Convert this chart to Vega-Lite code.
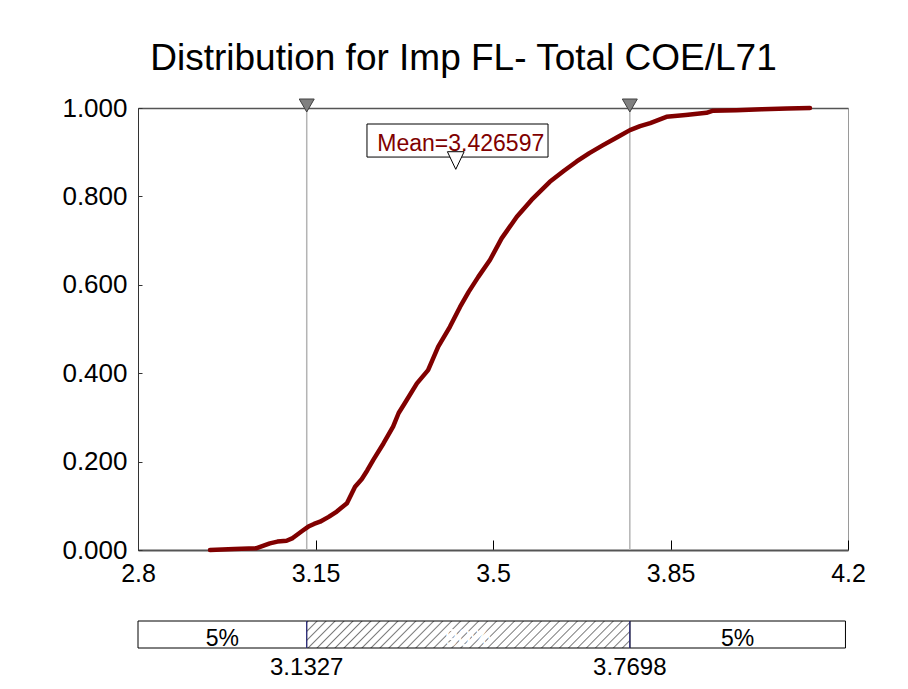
{
  "$schema": "https://vega.github.io/schema/vega-lite/v6.json",
  "width": 710,
  "height": 442,
  "autosize": {"type": "none"},
  "padding": {"left": 138, "top": 108, "right": 60, "bottom": 139},
  "background": "white",
  "title": {
    "text": "Distribution for Imp FL- Total COE/L71",
    "font": "Liberation Sans, Arial, sans-serif",
    "fontSize": 37,
    "fontWeight": "normal",
    "color": "black",
    "anchor": "middle",
    "dx": -29.5,
    "offset": 17
  },
  "config": {
    "view": {"stroke": "#9a9a9a", "strokeWidth": 1},
    "axis": {"grid": false, "labelColor": "black", "title": null}
  },
  "datasets": {
    "cdf": [
      {"x": 2.942, "p": 0.0},
      {"x": 2.99, "p": 0.002},
      {"x": 3.034, "p": 0.004},
      {"x": 3.06, "p": 0.015},
      {"x": 3.075, "p": 0.019},
      {"x": 3.093, "p": 0.021},
      {"x": 3.105, "p": 0.027},
      {"x": 3.113, "p": 0.034},
      {"x": 3.125, "p": 0.044},
      {"x": 3.136, "p": 0.053},
      {"x": 3.147, "p": 0.059},
      {"x": 3.159, "p": 0.064},
      {"x": 3.176, "p": 0.075},
      {"x": 3.192, "p": 0.087},
      {"x": 3.212, "p": 0.106},
      {"x": 3.228, "p": 0.143},
      {"x": 3.241, "p": 0.16},
      {"x": 3.252, "p": 0.18},
      {"x": 3.264, "p": 0.204},
      {"x": 3.284, "p": 0.241},
      {"x": 3.303, "p": 0.279},
      {"x": 3.314, "p": 0.31},
      {"x": 3.326, "p": 0.332},
      {"x": 3.35, "p": 0.377},
      {"x": 3.372, "p": 0.407},
      {"x": 3.392, "p": 0.46},
      {"x": 3.415, "p": 0.505},
      {"x": 3.435, "p": 0.55},
      {"x": 3.452, "p": 0.584},
      {"x": 3.471, "p": 0.618},
      {"x": 3.494, "p": 0.656},
      {"x": 3.517, "p": 0.705},
      {"x": 3.547, "p": 0.754},
      {"x": 3.576, "p": 0.792},
      {"x": 3.612, "p": 0.833},
      {"x": 3.64, "p": 0.858},
      {"x": 3.665, "p": 0.879},
      {"x": 3.69, "p": 0.898},
      {"x": 3.717, "p": 0.916},
      {"x": 3.745, "p": 0.934},
      {"x": 3.77, "p": 0.95},
      {"x": 3.79, "p": 0.959},
      {"x": 3.81, "p": 0.966},
      {"x": 3.842, "p": 0.98},
      {"x": 3.88, "p": 0.984},
      {"x": 3.921, "p": 0.989},
      {"x": 3.934, "p": 0.994},
      {"x": 3.98, "p": 0.995},
      {"x": 4.03, "p": 0.997},
      {"x": 4.08, "p": 0.999},
      {"x": 4.125, "p": 1.0}
    ],
    "quantiles": [
      {"q": 0.05, "v": 3.1327},
      {"q": 0.95, "v": 3.7698}
    ],
    "mean": [
      {"mean": 3.426597, "label": "Mean=3.426597"}
    ],
    "segments": [
      {"seg": "lower", "from": 2.8, "to": 3.1327, "share": "5%"},
      {"seg": "middle", "from": 3.1327, "to": 3.7698, "share": "90%"},
      {"seg": "upper", "from": 3.7698, "to": 4.195, "share": "5%"}
    ]
  },
  "layer": [
    {
      "layer": [
        {
          "data": {"name": "quantiles"},
          "mark": {"type": "rule", "color": "#b4b4b4", "strokeWidth": 1.5},
          "encoding": {
            "x": {
              "field": "v",
              "type": "quantitative",
              "scale": {"domain": [2.8, 4.2], "nice": false, "zero": false},
              "axis": {"orient": "top", "labels": false, "ticks": false, "domain": true, "domainColor": "#555555", "domainWidth": 1.5, "title": null}
            }
          }
        },
        {
          "data": {"name": "cdf"},
          "mark": {"type": "line", "color": "#800000", "strokeWidth": 4.5, "strokeJoin": "round", "strokeCap": "round"},
          "encoding": {
            "x": {
              "field": "x",
              "type": "quantitative",
              "scale": {"domain": [2.8, 4.2], "nice": false, "zero": false},
              "axis": {
                "orient": "bottom",
                "values": [2.8, 3.15, 3.5, 3.85, 4.2],
                "labelExpr": "toString(datum.value)",
                "labelFont": "Liberation Sans, Arial, sans-serif",
                "labelFontSize": 25,
                "labelPadding": 21,
                "labelFlush": false,
                "labelOverlap": false,
                "tickSize": -10,
                "tickColor": "black",
                "tickWidth": 1,
                "domainColor": "#555555",
                "domainWidth": 2,
                "title": null
              }
            },
            "y": {
              "field": "p",
              "type": "quantitative",
              "scale": {"domain": [0, 1], "nice": false, "zero": false},
              "axis": {
                "orient": "left",
                "values": [0, 0.2, 0.4, 0.6, 0.8, 1.0],
                "format": ".3f",
                "labelFont": "Liberation Sans, Arial, sans-serif",
                "labelFontSize": 26,
                "labelPadding": 15,
                "labelFlush": false,
                "labelOverlap": false,
                "tickSize": -4,
                "tickColor": "#333333",
                "domainColor": "#333333",
                "domainWidth": 1,
                "title": null
              }
            }
          }
        },
        {
          "data": {"name": "mean"},
          "mark": {"type": "rect", "fill": "white", "stroke": "black", "strokeWidth": 1},
          "encoding": {
            "x": {"datum": 3.2515, "type": "quantitative", "axis": null},
            "x2": {"datum": 3.6085},
            "y": {"datum": 0.889, "type": "quantitative"},
            "y2": {"datum": 0.9638}
          }
        },
        {
          "data": {"name": "mean"},
          "mark": {
            "type": "text",
            "font": "Liberation Sans, Arial, sans-serif",
            "fontSize": 23,
            "color": "#800000",
            "align": "center",
            "baseline": "alphabetic",
            "dx": 5
          },
          "encoding": {
            "x": {"field": "mean", "type": "quantitative", "axis": null},
            "y": {"datum": 0.9034, "type": "quantitative"},
            "text": {"field": "label"}
          }
        },
        {
          "data": {"name": "mean"},
          "mark": {
            "type": "point",
            "shape": "M-0.95,-1L0.95,-1L0,1Z",
            "size": 310,
            "filled": true,
            "fill": "white",
            "stroke": "black",
            "strokeWidth": 1,
            "opacity": 1
          },
          "encoding": {
            "x": {"field": "mean", "type": "quantitative", "axis": null},
            "y": {"datum": 0.8812, "type": "quantitative"}
          }
        },
        {
          "data": {"name": "quantiles"},
          "mark": {
            "type": "point",
            "shape": "triangle-down",
            "size": 225,
            "filled": true,
            "fill": "#808080",
            "stroke": "#404040",
            "strokeWidth": 1,
            "opacity": 1,
            "yOffset": -2.5
          },
          "encoding": {
            "x": {"field": "v", "type": "quantitative", "axis": null},
            "y": {"datum": 1, "type": "quantitative"}
          }
        }
      ]
    },
    {
      "layer": [
        {
          "data": {"name": "segments"},
          "transform": [{"filter": "datum.seg !== 'middle'"}],
          "mark": {"type": "rect", "fill": "white", "stroke": "black", "strokeWidth": 1},
          "encoding": {
            "x": {"field": "from", "type": "quantitative", "axis": null},
            "x2": {"field": "to"},
            "y": {"datum": 0, "type": "quantitative", "scale": {"domain": [3.63, 20], "nice": false, "zero": false}, "axis": null},
            "y2": {"datum": 1}
          }
        },
        {
          "data": {"name": "segments"},
          "transform": [{"filter": "datum.seg === 'middle'"}],
          "mark": {
            "type": "rect",
            "stroke": "black",
            "strokeWidth": 1,
            "fill": {
              "gradient": "linear",
              "x1": 0, "y1": 0, "x2": 1.0761, "y2": 0.0899,
              "stops": [
                {"offset": 0, "color": "#ffffff"}, {"offset": 0.004, "color": "#7a7a7a"}, {"offset": 0.008, "color": "#ffffff"},
                {"offset": 0.02564, "color": "#ffffff"}, {"offset": 0.02964, "color": "#7a7a7a"}, {"offset": 0.03364, "color": "#ffffff"},
                {"offset": 0.05128, "color": "#ffffff"}, {"offset": 0.05528, "color": "#7a7a7a"}, {"offset": 0.05928, "color": "#ffffff"},
                {"offset": 0.07692, "color": "#ffffff"}, {"offset": 0.08092, "color": "#7a7a7a"}, {"offset": 0.08492, "color": "#ffffff"},
                {"offset": 0.10256, "color": "#ffffff"}, {"offset": 0.10656, "color": "#7a7a7a"}, {"offset": 0.11056, "color": "#ffffff"},
                {"offset": 0.12821, "color": "#ffffff"}, {"offset": 0.13221, "color": "#7a7a7a"}, {"offset": 0.13621, "color": "#ffffff"},
                {"offset": 0.15385, "color": "#ffffff"}, {"offset": 0.15785, "color": "#7a7a7a"}, {"offset": 0.16185, "color": "#ffffff"},
                {"offset": 0.17949, "color": "#ffffff"}, {"offset": 0.18349, "color": "#7a7a7a"}, {"offset": 0.18749, "color": "#ffffff"},
                {"offset": 0.20513, "color": "#ffffff"}, {"offset": 0.20913, "color": "#7a7a7a"}, {"offset": 0.21313, "color": "#ffffff"},
                {"offset": 0.23077, "color": "#ffffff"}, {"offset": 0.23477, "color": "#7a7a7a"}, {"offset": 0.23877, "color": "#ffffff"},
                {"offset": 0.25641, "color": "#ffffff"}, {"offset": 0.26041, "color": "#7a7a7a"}, {"offset": 0.26441, "color": "#ffffff"},
                {"offset": 0.28205, "color": "#ffffff"}, {"offset": 0.28605, "color": "#7a7a7a"}, {"offset": 0.29005, "color": "#ffffff"},
                {"offset": 0.30769, "color": "#ffffff"}, {"offset": 0.31169, "color": "#7a7a7a"}, {"offset": 0.31569, "color": "#ffffff"},
                {"offset": 0.33333, "color": "#ffffff"}, {"offset": 0.33733, "color": "#7a7a7a"}, {"offset": 0.34133, "color": "#ffffff"},
                {"offset": 0.35897, "color": "#ffffff"}, {"offset": 0.36297, "color": "#7a7a7a"}, {"offset": 0.36697, "color": "#ffffff"},
                {"offset": 0.38462, "color": "#ffffff"}, {"offset": 0.38862, "color": "#7a7a7a"}, {"offset": 0.39262, "color": "#ffffff"},
                {"offset": 0.41026, "color": "#ffffff"}, {"offset": 0.41426, "color": "#7a7a7a"}, {"offset": 0.41826, "color": "#ffffff"},
                {"offset": 0.4359, "color": "#ffffff"}, {"offset": 0.4399, "color": "#7a7a7a"}, {"offset": 0.4439, "color": "#ffffff"},
                {"offset": 0.46154, "color": "#ffffff"}, {"offset": 0.46554, "color": "#7a7a7a"}, {"offset": 0.46954, "color": "#ffffff"},
                {"offset": 0.48718, "color": "#ffffff"}, {"offset": 0.49118, "color": "#7a7a7a"}, {"offset": 0.49518, "color": "#ffffff"},
                {"offset": 0.51282, "color": "#ffffff"}, {"offset": 0.51682, "color": "#7a7a7a"}, {"offset": 0.52082, "color": "#ffffff"},
                {"offset": 0.53846, "color": "#ffffff"}, {"offset": 0.54246, "color": "#7a7a7a"}, {"offset": 0.54646, "color": "#ffffff"},
                {"offset": 0.5641, "color": "#ffffff"}, {"offset": 0.5681, "color": "#7a7a7a"}, {"offset": 0.5721, "color": "#ffffff"},
                {"offset": 0.58974, "color": "#ffffff"}, {"offset": 0.59374, "color": "#7a7a7a"}, {"offset": 0.59774, "color": "#ffffff"},
                {"offset": 0.61538, "color": "#ffffff"}, {"offset": 0.61938, "color": "#7a7a7a"}, {"offset": 0.62338, "color": "#ffffff"},
                {"offset": 0.64103, "color": "#ffffff"}, {"offset": 0.64503, "color": "#7a7a7a"}, {"offset": 0.64903, "color": "#ffffff"},
                {"offset": 0.66667, "color": "#ffffff"}, {"offset": 0.67067, "color": "#7a7a7a"}, {"offset": 0.67467, "color": "#ffffff"},
                {"offset": 0.69231, "color": "#ffffff"}, {"offset": 0.69631, "color": "#7a7a7a"}, {"offset": 0.70031, "color": "#ffffff"},
                {"offset": 0.71795, "color": "#ffffff"}, {"offset": 0.72195, "color": "#7a7a7a"}, {"offset": 0.72595, "color": "#ffffff"},
                {"offset": 0.74359, "color": "#ffffff"}, {"offset": 0.74759, "color": "#7a7a7a"}, {"offset": 0.75159, "color": "#ffffff"},
                {"offset": 0.76923, "color": "#ffffff"}, {"offset": 0.77323, "color": "#7a7a7a"}, {"offset": 0.77723, "color": "#ffffff"},
                {"offset": 0.79487, "color": "#ffffff"}, {"offset": 0.79887, "color": "#7a7a7a"}, {"offset": 0.80287, "color": "#ffffff"},
                {"offset": 0.82051, "color": "#ffffff"}, {"offset": 0.82451, "color": "#7a7a7a"}, {"offset": 0.82851, "color": "#ffffff"},
                {"offset": 0.84615, "color": "#ffffff"}, {"offset": 0.85015, "color": "#7a7a7a"}, {"offset": 0.85415, "color": "#ffffff"},
                {"offset": 0.87179, "color": "#ffffff"}, {"offset": 0.87579, "color": "#7a7a7a"}, {"offset": 0.87979, "color": "#ffffff"},
                {"offset": 0.89744, "color": "#ffffff"}, {"offset": 0.90144, "color": "#7a7a7a"}, {"offset": 0.90544, "color": "#ffffff"},
                {"offset": 0.92308, "color": "#ffffff"}, {"offset": 0.92708, "color": "#7a7a7a"}, {"offset": 0.93108, "color": "#ffffff"},
                {"offset": 0.94872, "color": "#ffffff"}, {"offset": 0.95272, "color": "#7a7a7a"}, {"offset": 0.95672, "color": "#ffffff"},
                {"offset": 0.97436, "color": "#ffffff"}, {"offset": 0.97836, "color": "#7a7a7a"}, {"offset": 0.98236, "color": "#ffffff"},
                {"offset": 1, "color": "#ffffff"}
              ]
            }
          },
          "encoding": {
            "x": {"field": "from", "type": "quantitative", "axis": null},
            "x2": {"field": "to"},
            "y": {"datum": 0, "type": "quantitative", "axis": null},
            "y2": {"datum": 1}
          }
        },
        {
          "data": {"name": "quantiles"},
          "mark": {"type": "rule", "color": "#3a3a9a", "strokeWidth": 1},
          "encoding": {
            "x": {"field": "v", "type": "quantitative", "axis": null},
            "y": {"datum": 0, "type": "quantitative", "axis": null},
            "y2": {"datum": 1}
          }
        },
        {
          "data": {"name": "segments"},
          "transform": [{"calculate": "(datum.from + datum.to) / 2", "as": "mid"}],
          "mark": {
            "type": "text",
            "font": "Liberation Sans, Arial, sans-serif",
            "fontSize": 23,
            "align": "center",
            "baseline": "alphabetic"
          },
          "encoding": {
            "x": {"field": "mid", "type": "quantitative", "axis": null},
            "y": {"datum": 0.074, "type": "quantitative", "axis": null},
            "text": {"field": "share"},
            "color": {"condition": {"test": "datum.seg === 'middle'", "value": "white"}, "value": "black"}
          }
        },
        {
          "data": {"name": "quantiles"},
          "mark": {
            "type": "text",
            "font": "Liberation Sans, Arial, sans-serif",
            "fontSize": 24,
            "align": "center",
            "baseline": "alphabetic",
            "color": "black"
          },
          "encoding": {
            "x": {"field": "v", "type": "quantitative", "axis": null},
            "y": {"datum": -1, "type": "quantitative", "axis": null},
            "text": {"field": "v", "type": "quantitative", "format": ".4f"}
          }
        }
      ]
    }
  ],
  "resolve": {"scale": {"y": "independent"}}
}
